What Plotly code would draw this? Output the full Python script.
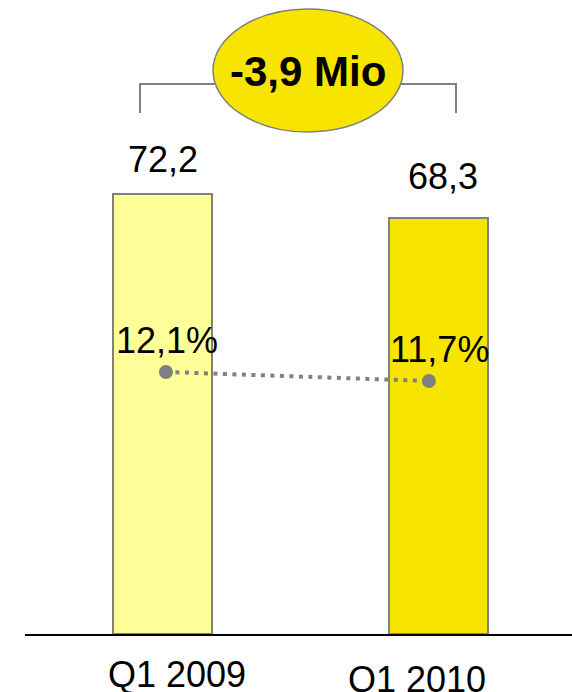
import plotly.graph_objects as go

# ---- data ----
categories = ["Q1 2009", "Q1 2010"]
revenue = [72.2, 68.3]
revenue_labels = ["72,2", "68,3"]
margin_pct = [12.1, 11.7]
margin_labels = ["12,1%", "11,7%"]
delta_label = "-3,9 Mio"

# ---- style ----
bar_colors = ["#FFFF99", "#F7E400"]
gray = "#808080"
FONT = "Liberation Sans, Arial, sans-serif"

W, H = 572, 692
L, R, T, B = 25, 0, 0, 58
pw, ph = W - L - R, H - T - B


def px(xp):
    return (xp - L) / pw


def py(yp):
    return (H - B - yp) / ph


xs = list(range(len(categories)))

fig = go.Figure()
fig.add_trace(go.Bar(
    x=xs, y=revenue, width=0.358,
    marker=dict(color=bar_colors, line=dict(color=gray, width=2)),
    xaxis="x", yaxis="y", hoverinfo="skip", showlegend=False,
))
fig.add_trace(go.Scatter(
    x=xs, y=margin_pct, mode="lines+markers",
    line=dict(color=gray, width=4, dash="4px,5.5px"),
    marker=dict(size=14, color=gray),
    xaxis="x2", yaxis="y2", hoverinfo="skip", showlegend=False,
))

annotations = []
# value labels above bars
val_shift = [(1, 34), (4, 41)]
for i, (lab, v) in enumerate(zip(revenue_labels, revenue)):
    annotations.append(dict(
        x=xs[i], y=v, xref="x", yref="y", text=lab, showarrow=False,
        xanchor="center", yanchor="middle",
        xshift=val_shift[i][0], yshift=val_shift[i][1],
        font=dict(family=FONT, size=36, color="black"),
    ))
# percent labels above points
pct_shift = [(1, 31), (11, 31)]
for i, (lab, v) in enumerate(zip(margin_labels, margin_pct)):
    annotations.append(dict(
        x=xs[i], y=v, xref="x2", yref="y2", text=lab, showarrow=False,
        xanchor="center", yanchor="middle",
        xshift=pct_shift[i][0], yshift=pct_shift[i][1],
        font=dict(family=FONT, size=36, color="black"),
    ))
# category labels
cat_shift = [(15, -40), (-22, -45)]
for i, lab in enumerate(categories):
    annotations.append(dict(
        x=xs[i], y=0, xref="x", yref="paper", text=lab, showarrow=False,
        xanchor="center", yanchor="middle",
        xshift=cat_shift[i][0], yshift=cat_shift[i][1],
        font=dict(family=FONT, size=36, color="black"),
    ))
# delta label
annotations.append(dict(
    x=px(308), y=py(72), xref="paper", yref="paper", text="<b>%s</b>" % delta_label,
    showarrow=False, xanchor="center", yanchor="middle",
    font=dict(family=FONT, size=42, color="black"),
))

shapes = [
    dict(type="path", xref="paper", yref="paper",
         path="M %f,%f L %f,%f L %f,%f L %f,%f" % (
             px(140), py(113), px(140), py(84), px(456), py(84), px(456), py(113)),
         line=dict(color=gray, width=2)),
    dict(type="circle", xref="paper", yref="paper",
         x0=px(213), x1=px(403), y0=py(132), y1=py(9),
         fillcolor="#F7E400", line=dict(color=gray, width=1.5), layer="above"),
]

fig.update_layout(
    width=W, height=H,
    margin=dict(l=L, r=R, t=T, b=B, pad=0),
    paper_bgcolor="white", plot_bgcolor="white",
    bargap=0,
    xaxis=dict(range=[-0.497, 1.481], showticklabels=False, ticks="",
               showline=True, linecolor="black", linewidth=2,
               showgrid=False, zeroline=False, fixedrange=True),
    yaxis=dict(range=[0, 104.03], visible=False, fixedrange=True),
    xaxis2=dict(overlaying="x", range=[-0.536, 1.544], visible=False, fixedrange=True),
    yaxis2=dict(overlaying="y", range=[0.456, 28.63], visible=False, fixedrange=True),
    annotations=annotations,
    shapes=shapes,
    showlegend=False,
)

fig.write_html(
    "out.html",
    config={"displayModeBar": False},
    post_script="document.body.style.margin='0';document.body.style.overflow='hidden';",
)
